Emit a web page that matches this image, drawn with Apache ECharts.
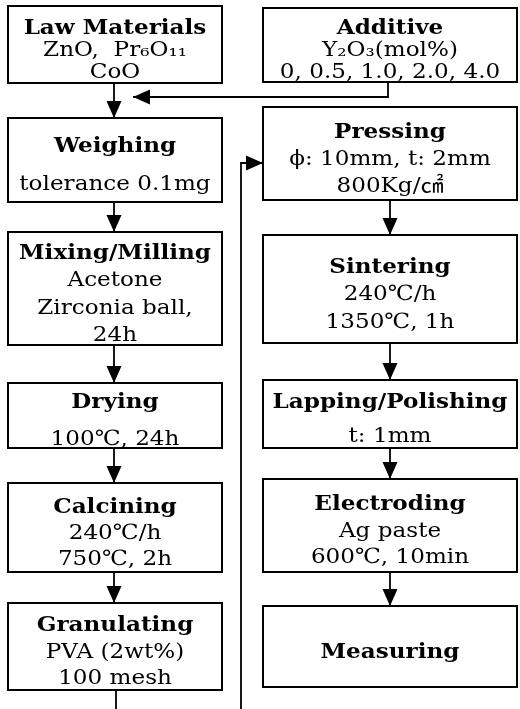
<!DOCTYPE html>
<html><head><meta charset="utf-8">
<script src="https://cdn.jsdelivr.net/npm/echarts@6/dist/echarts.min.js"></script>
<style>html,body{margin:0;padding:0;background:#fff}#c{width:520px;height:709px}</style>
</head><body><div id="c"></div><script>
// ---------- data: flowchart contents ----------
const leftTitles = ['Law Materials', 'Weighing', 'Mixing/Milling', 'Drying', 'Calcining', 'Granulating'];
const leftDetails = [
  ['ZnO,  Pr₆O₁₁', 'CoO'],
  ['tolerance 0.1mg'],
  ['Acetone', 'Zirconia ball,', '24h'],
  ['100℃, 24h'],
  ['240℃/h', '750℃, 2h'],
  ['PVA (2wt%)', '100 mesh']
];
const rightTitles = ['Additive', 'Pressing', 'Sintering', 'Lapping/Polishing', 'Electroding', 'Measuring'];
const rightDetails = [
  ['Y₂O₃(mol%)', '0, 0.5, 1.0, 2.0, 4.0'],
  ['ϕ: 10mm, t: 2mm', '800Kg/㎠'],
  ['240℃/h', '1350℃, 1h'],
  ['t: 1mm'],
  ['Ag paste', '600℃, 10min'],
  []
];

// ---------- layout (chart units, y grows downward) ----------
const W = 520, H = 709;
const colSpan = { left: [8, 222], right: [263, 517] };
const rowSpan = {
  left: [[6, 83], [118, 202], [232, 345], [383, 448], [483, 572], [603, 690]],
  right: [[8, 82], [107, 200], [235, 343], [380, 448], [479, 572], [606, 687]]
};
const rowGap = { left: [22, 38, 27.5, 37, 26, 26.5], right: [22, 27, 27.5, 34, 26.5, 0] };
const textShift = 6;
const fontFam = '"DejaVu Serif", "Noto Sans CJK KR", serif';
const fontSize = 21, stretch = 1.1;
const ink = '#000';

const boxes = [];
['left', 'right'].forEach(function (side) {
  const titles = side === 'left' ? leftTitles : rightTitles;
  const details = side === 'left' ? leftDetails : rightDetails;
  titles.forEach(function (t, i) {
    boxes.push({
      side: side, idx: i,
      x0: colSpan[side][0], x1: colSpan[side][1],
      y0: rowSpan[side][i][0], y1: rowSpan[side][i][1],
      lines: [{ t: t, bold: true }].concat(details[i].map(function (d) { return { t: d, bold: false }; })),
      gap: rowGap[side][i]
    });
  });
});
function boxOf(side, i) { return boxes.filter(function (b) { return b.side === side && b.idx === i; })[0]; }
function cx(b) { return (b.x0 + b.x1) / 2; }

// connectors
const connectors = [];
const lawBox = boxOf('left', 0), addBox = boxOf('right', 0);
const leftX = cx(lawBox) - 1, rightX = cx(addBox) + 0;
const mergeY = 97, mergeTip = leftX + 19;
connectors.push({ pts: [[leftX, lawBox.y1], [leftX, boxOf('left', 1).y0]], arrow: true });
connectors.push({ pts: [[rightX - 2, addBox.y1], [rightX - 2, mergeY], [mergeTip, mergeY]], arrow: true });
for (let i = 1; i < leftTitles.length - 1; i++) {
  connectors.push({ pts: [[leftX, boxOf('left', i).y1], [leftX, boxOf('left', i + 1).y0]], arrow: true });
}
for (let i = 1; i < rightTitles.length - 1; i++) {
  connectors.push({ pts: [[rightX, boxOf('right', i).y1], [rightX, boxOf('right', i + 1).y0]], arrow: true });
}
const lastLeft = boxOf('left', leftTitles.length - 1);
connectors.push({ pts: [[leftX + 2, lastLeft.y1], [leftX + 2, H]], arrow: false });
const feedX = 241, feedY = 163;
connectors.push({ pts: [[feedX, H], [feedX, feedY], [boxOf('right', 1).x0, feedY]], arrow: true });

const chart = echarts.init(document.getElementById('c'), null, { renderer: 'canvas' });

function renderBox(params, api) {
  const b = boxes[params.dataIndex];
  const p0 = api.coord([b.x0, b.y0]), p1 = api.coord([b.x1, b.y1]);
  const children = [{
    type: 'rect',
    shape: { x: p0[0], y: p0[1], width: p1[0] - p0[0], height: p1[1] - p0[1] },
    style: { fill: '#fff', stroke: ink, lineWidth: 2 }
  }];
  const n = b.lines.length;
  const midY = (b.y0 + b.y1) / 2 + textShift;
  b.lines.forEach(function (ln, k) {
    const c = api.coord([cx(b), midY + (k - (n - 1) / 2) * b.gap]);
    children.push({
      type: 'text', x: c[0], y: c[1], scaleX: stretch, scaleY: 1,
      style: {
        text: ln.t, x: 0, y: 0, fill: ink,
        font: (ln.bold ? 'bold ' : '') + fontSize + 'px ' + fontFam,
        align: 'center', verticalAlign: 'middle'
      }
    });
  });
  return { type: 'group', children: children };
}

function renderConn(params, api) {
  const c = connectors[params.dataIndex];
  const pts = c.pts.map(function (p) { return api.coord(p); });
  const children = [{
    type: 'polyline', shape: { points: pts },
    style: { stroke: ink, lineWidth: 1.8, fill: null }
  }];
  if (c.arrow) {
    const a = pts[pts.length - 2], t = pts[pts.length - 1];
    const dx = t[0] - a[0], dy = t[1] - a[1], L = Math.sqrt(dx * dx + dy * dy);
    const ux = dx / L, uy = dy / L, hl = 17, hw = 7.5;
    const bx = t[0] - ux * hl, by = t[1] - uy * hl;
    children.push({
      type: 'polygon',
      shape: { points: [t, [bx - uy * hw, by + ux * hw], [bx + uy * hw, by - ux * hw]] },
      style: { fill: ink }
    });
  }
  return { type: 'group', children: children };
}

chart.setOption({
  backgroundColor: '#fff',
  animation: false,
  grid: { left: 0, right: 0, top: 0, bottom: 0 },
  xAxis: { type: 'value', min: 0, max: W, show: false },
  yAxis: { type: 'value', min: 0, max: H, inverse: true, show: false },
  series: [
    { type: 'custom', name: 'connectors', renderItem: renderConn, data: connectors.map(function (c, i) { return [i, 0]; }), silent: true, z: 1 },
    { type: 'custom', name: 'steps', renderItem: renderBox, data: boxes.map(function (b, i) { return [i, 0]; }), silent: true, z: 2 }
  ]
});
</script></body></html>
